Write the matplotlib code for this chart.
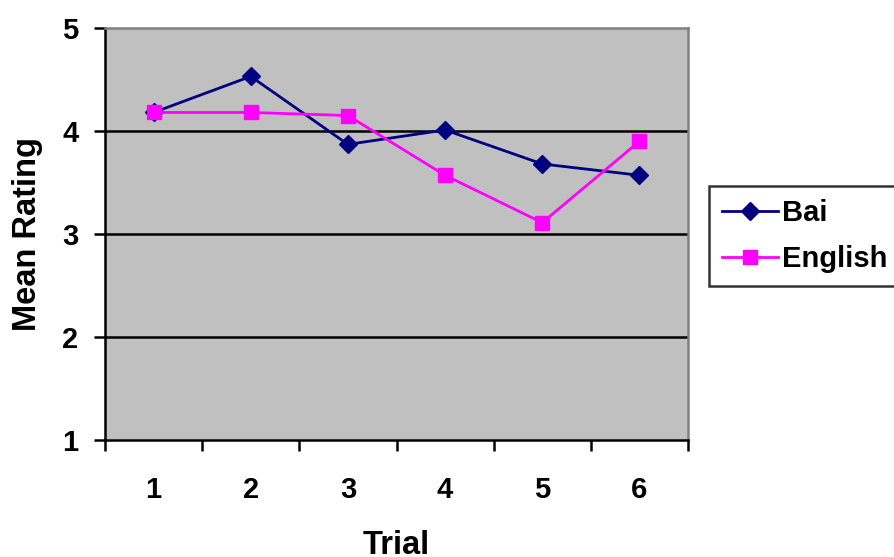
import matplotlib
matplotlib.use("Agg")
import matplotlib.pyplot as plt

# Data
trials = [1, 2, 3, 4, 5, 6]
bai = [4.18, 4.53, 3.87, 4.01, 3.68, 3.57]
english = [4.18, 4.18, 4.15, 3.57, 3.11, 3.90]

plt.rcParams['font.family'] = ['Liberation Sans', 'DejaVu Sans']
plt.rcParams['font.weight'] = 'bold'
fs = 21
tfs = 23.5

fig = plt.figure(figsize=(8.95, 5.57), dpi=100)
ax = fig.add_axes([105/895, 117/557, 583/895, 412/557])
ax.set_facecolor('#C0C0C0')

for y in [2, 3, 4]:
    ax.axhline(y, color='black', lw=1.8, zorder=1)

ax.plot(trials, bai, color='#000080', lw=2, marker='D', ms=9, label='Bai', zorder=3)
ax.plot(trials, english, color='#FF00FF', lw=2, marker='s', ms=10, label='English', zorder=3)

ax.set_xlim(0.5, 6.5)
ax.set_ylim(1, 5)
ax.set_yticks([1, 2, 3, 4, 5])
ax.set_xticks([0.5 + i for i in range(7)], minor=False)
ax.set_xticklabels([])
ax.set_xticks(trials, minor=True)
ax.set_xticklabels([str(t) for t in trials], minor=True)
ax.tick_params(axis='x', which='major', length=8, width=1.8, direction='out')
ax.tick_params(axis='x', which='minor', length=0, pad=26, labelsize=fs)
ax.tick_params(axis='y', length=8, width=1.8, direction='out', pad=11, labelsize=fs)

for s in ['left', 'bottom']:
    ax.spines[s].set_color('black')
    ax.spines[s].set_linewidth(1.8)
for s in ['top', 'right']:
    ax.spines[s].set_color('#808080')
    ax.spines[s].set_linewidth(1.8)

ax.set_ylabel('Mean Rating', fontsize=tfs, fontweight='bold', labelpad=14)
ax.set_xlabel('Trial', fontsize=tfs, fontweight='bold', labelpad=19)

leg = fig.legend(loc='upper left', bbox_to_anchor=(709/895, 371/557), fontsize=fs,
                 frameon=True, fancybox=False, edgecolor='black', borderpad=0.45,
                 handlelength=1.9, handletextpad=0.15, labelspacing=0.62, borderaxespad=0)
leg.get_frame().set_linewidth(1.8)

fig.savefig('out.png', dpi=100)
